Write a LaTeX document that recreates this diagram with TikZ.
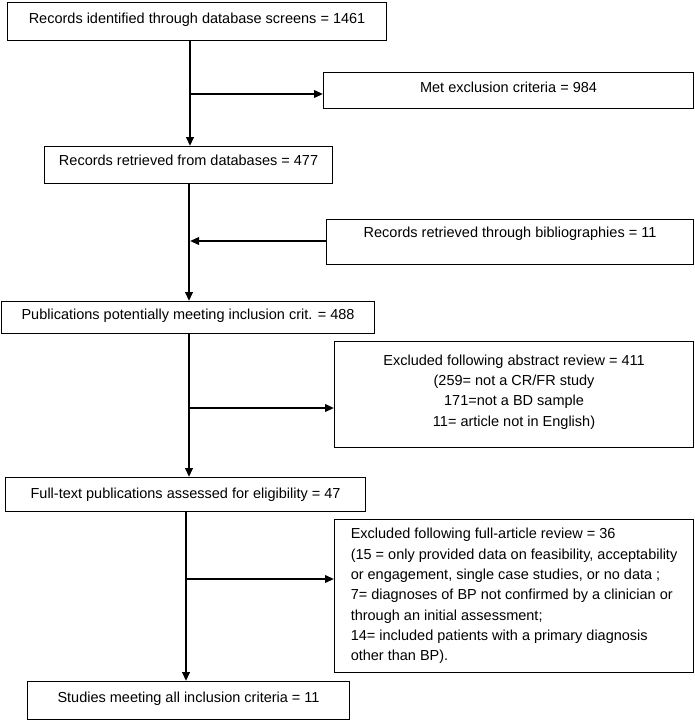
\documentclass[tikz,border=0pt]{standalone}
\usepackage{fontspec}
\setmainfont{Liberation Sans}
\usetikzlibrary{arrows.meta}
\begin{document}
\begin{tikzpicture}[x=1pt,y=-1pt,
  box/.style={draw, line width=1.1pt, inner sep=0pt, anchor=north west,
    font=\fontsize{14.5}{20.3}\selectfont},
  spine/.style={line width=2.2pt, -{Triangle[length=9pt,width=7.5pt]}},
  branch/.style={line width=2pt, -{Triangle[length=9pt,width=7.5pt]}}]
\useasboundingbox (0,0) rectangle (694,720);
% boxes
\node[box, minimum width=379, minimum height=38, text depth=7pt] (b1) at (7,2)
  {Records identified through database screens = 1461};
\node[box, minimum width=370, minimum height=36, text depth=6pt] (met) at (323,72)
  {Met exclusion criteria = 984};
\node[box, minimum width=288, minimum height=37, text depth=9pt] (b2) at (44,146)
  {Records retrieved from databases = 477};
\node[box, minimum width=367, minimum height=45, text depth=19pt] (bib) at (326,219)
  {Records retrieved through bibliographies = 11};
\node[box, minimum width=373, minimum height=32, text depth=7pt] (b3) at (1,301)
  {Publications potentially meeting inclusion crit. = 488};
\node[box, minimum width=359, minimum height=106, align=center, text depth=8pt] (abs) at (334,341)
  {Excluded following abstract review = 411\\(259= not a CR/FR study\\171=not a BD sample\\11= article not in English)};
\node[box, minimum width=360, minimum height=34] (b4) at (5,477)
  {Full-text publications assessed for eligibility = 47};
\node[box, minimum width=359, minimum height=153, align=left] (full) at (334,519)
  {Excluded following full-article review = 36\\(15 = only provided data on feasibility, acceptability\\or engagement, single case studies, or no data ;\\7= diagnoses of BP not confirmed by a clinician or\\through an initial assessment;\\14= included patients with a primary diagnosis\\other than BP).};
\node[box, minimum width=322, minimum height=38, text depth=6pt] (b5) at (27,681)
  {Studies meeting all inclusion criteria = 11};
% spine x positions
\coordinate (s1) at (190,0);
\coordinate (s2) at (189,0);
\coordinate (s3) at (189,0);
\coordinate (s4) at (186,0);
\draw[spine] (b1.south -| s1) -- (b2.north -| s1);
\draw[spine] (b2.south -| s2) -- (b3.north -| s2);
\draw[spine] (b3.south -| s3) -- (b4.north -| s3);
\draw[spine] (b4.south -| s4) -- (b5.north -| s4);
% branches
\coordinate (r1) at (190,94);
\coordinate (r2) at (190,241);
\coordinate (r3) at (189,408);
\coordinate (r4) at (186,579);
\draw[branch] (r1) -- (r1 -| met.west);
\draw[branch] (r2 -| bib.west) -- (r2);
\draw[branch] (r3) -- (r3 -| abs.west);
\draw[branch] (r4) -- (r4 -| full.west);
\end{tikzpicture}
\end{document}
